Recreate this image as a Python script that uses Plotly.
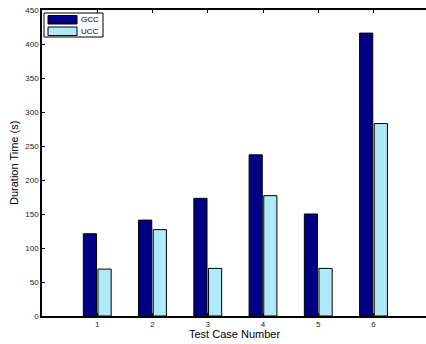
import plotly.graph_objects as go

cases = [1, 2, 3, 4, 5, 6]
gcc = [121, 141, 173, 237, 150, 416]
ucc = [69, 127, 70, 177, 70, 283]
y_ticks = [0, 50, 100, 150, 200, 250, 300, 350, 400, 450]
series_names = ["GCC", "UCC"]
series_colors = ["#000086", "#AEEAFA"]

font = "Liberation Sans, Arial, sans-serif"
W, H = 426, 344
L, R, T, B = 42, 0, 10, 28
PW, PH = W - L - R, H - T - B


def px_x(px):
    # window pixel -> paper coordinate
    return (px - L) / PW


def px_y(py):
    return (H - B - py) / PH


fig = go.Figure()
for name, vals, col in zip(series_names, [gcc, ucc], series_colors):
    fig.add_trace(go.Bar(x=cases, y=vals, name=name, showlegend=False,
                         marker=dict(color=col, line=dict(color="#000000", width=1))))

# legend drawn as box + swatches + real text
shapes = [dict(type="rect", xref="paper", yref="paper",
               x0=px_x(44), x1=px_x(103), y0=px_y(37), y1=px_y(13),
               line=dict(color="#000000", width=1), fillcolor="white", layer="above")]
annotations = []
rows = [(15.5, 24), (27, 35.5)]
for (y0, y1), name, col in zip(rows, series_names, series_colors):
    shapes.append(dict(type="rect", xref="paper", yref="paper",
                       x0=px_x(48), x1=px_x(77), y0=px_y(y1), y1=px_y(y0),
                       line=dict(color="#000000", width=1), fillcolor=col, layer="above"))
    annotations.append(dict(text=name, xref="paper", yref="paper",
                            x=px_x(79), y=px_y((y0 + y1) / 2), xanchor="left", yanchor="middle",
                            showarrow=False, font=dict(size=8, family=font, color="#000000")))

# axis titles
annotations.append(dict(text="Test Case Number", xref="paper", yref="paper",
                        x=px_x(234), y=px_y(334), xanchor="center", yanchor="middle",
                        showarrow=False, font=dict(size=11, family=font, color="#000000")))
annotations.append(dict(text="Duration Time (s)", xref="paper", yref="paper",
                        x=px_x(14), y=px_y(163), xanchor="center", yanchor="middle", textangle=-90,
                        showarrow=False, font=dict(size=11, family=font, color="#000000")))

fig.update_layout(
    width=W, height=H,
    margin=dict(l=L, r=R, t=T, b=B),
    paper_bgcolor="white", plot_bgcolor="white",
    barmode="group", bargap=0.47, bargroupgap=0.1,
    font=dict(family=font, size=8, color="#000000"),
    showlegend=False,
    shapes=shapes, annotations=annotations,
    xaxis=dict(range=[0, 6.95], tickvals=cases, ticktext=[str(c) for c in cases],
               showline=True, linecolor="#000000", linewidth=1.5, mirror="allticks",
               ticks="inside", ticklen=3, tickcolor="#000000",
               showgrid=False, zeroline=False, automargin=False,
               tickfont=dict(size=8, family=font, color="#222222")),
    yaxis=dict(range=[0, 450], tickvals=y_ticks,
               showline=True, linecolor="#000000", linewidth=1.5, mirror=False,
               ticks="inside", ticklen=3, tickcolor="#000000",
               showgrid=False, zeroline=False, automargin=False,
               tickfont=dict(size=8, family=font, color="#222222")),
)

fig.write_html("out.html", config={"displayModeBar": False},
               post_script="document.body.style.margin='0';document.body.style.overflow='hidden';")
